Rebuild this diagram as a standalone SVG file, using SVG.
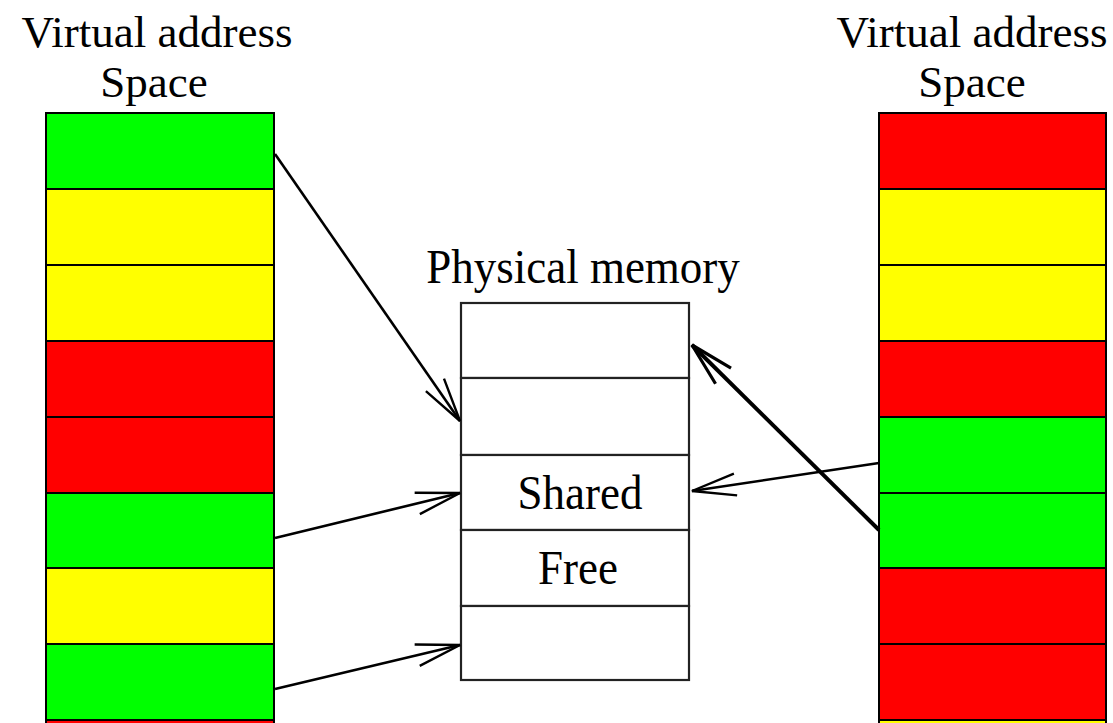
<svg xmlns="http://www.w3.org/2000/svg" width="1113" height="723" viewBox="0 0 1113 723">
  <style>
    .t { font-family: "Liberation Serif", "Times New Roman", serif; font-size: 45px; fill: #000; text-anchor: middle; }
    .g { fill: #00ff00; stroke: #000; stroke-width: 2; }
    .y { fill: #ffff00; stroke: #000; stroke-width: 2; }
    .r { fill: #ff0000; stroke: #000; stroke-width: 2; }
    .p { fill: #fff; stroke: #222; stroke-width: 2.2; }
    .c { fill: none; stroke: #000; stroke-width: 2.6; }
    .ct { fill: none; stroke: #000; stroke-width: 4; }
  </style>
  <defs>
    <marker id="arr" markerUnits="userSpaceOnUse" markerWidth="60" markerHeight="40" viewBox="-50 -20 60 40" refX="0" refY="0" orient="auto" overflow="visible">
      <path d="M-44,-11 L0,0 L-44,11" fill="none" stroke="#000" stroke-width="2.4"/>
    </marker>
    <marker id="arrt" markerUnits="userSpaceOnUse" markerWidth="60" markerHeight="40" viewBox="-50 -20 60 40" refX="0" refY="0" orient="auto" overflow="visible">
      <path d="M-44,-11 L0,0 L-44,11" fill="none" stroke="#000" stroke-width="3.2"/>
    </marker>
  </defs>
  <rect width="1113" height="723" fill="#fff"/>

  <g id="left-label">
    <text class="t" x="157" y="47">Virtual address</text>
    <text class="t" x="154" y="97">Space</text>
  </g>
  <g id="right-label">
    <text class="t" x="972" y="47">Virtual address</text>
    <text class="t" x="972" y="97">Space</text>
  </g>
  <g id="phys-label">
    <text class="t" transform="translate(583,283) scale(1,1.08)">Physical memory</text>
  </g>

  <g id="left-space">
    <rect class="g" x="46" y="113" width="228" height="76"/>
    <rect class="y" x="46" y="189" width="228" height="76"/>
    <rect class="y" x="46" y="265" width="228" height="76"/>
    <rect class="r" x="46" y="341" width="228" height="76"/>
    <rect class="r" x="46" y="417" width="228" height="76"/>
    <rect class="g" x="46" y="493" width="228" height="75"/>
    <rect class="y" x="46" y="568" width="228" height="76"/>
    <rect class="g" x="46" y="644" width="228" height="76"/>
    <rect class="r" x="46" y="720" width="228" height="20"/>
  </g>

  <g id="right-space">
    <rect class="r" x="879" y="113" width="227" height="76"/>
    <rect class="y" x="879" y="189" width="227" height="76"/>
    <rect class="y" x="879" y="265" width="227" height="76"/>
    <rect class="r" x="879" y="341" width="227" height="76"/>
    <rect class="g" x="879" y="417" width="227" height="76"/>
    <rect class="g" x="879" y="493" width="227" height="75"/>
    <rect class="r" x="879" y="568" width="227" height="76"/>
    <rect class="r" x="879" y="644" width="227" height="76"/>
    <rect class="y" x="879" y="720" width="227" height="20"/>
  </g>

  <g id="physical-memory">
    <rect class="p" x="461" y="303" width="228" height="75"/>
    <rect class="p" x="461" y="378" width="228" height="77"/>
    <rect class="p" x="461" y="455" width="228" height="75"/>
    <rect class="p" x="461" y="530" width="228" height="76"/>
    <rect class="p" x="461" y="606" width="228" height="74"/>
    <text class="t" transform="translate(580,509) scale(1,1.08)">Shared</text>
    <text class="t" transform="translate(578,584) scale(1,1.08)">Free</text>
  </g>

  <g id="connectors">
    <line class="c" x1="275" y1="154" x2="460" y2="421" marker-end="url(#arr)"/>
    <line class="c" x1="275" y1="538" x2="460" y2="493" marker-end="url(#arr)"/>
    <line class="c" x1="275" y1="689" x2="460" y2="645" marker-end="url(#arr)"/>
    <line class="c" x1="879" y1="463" x2="692" y2="491" marker-end="url(#arr)"/>
    <line class="ct" x1="879" y1="530" x2="692" y2="345" marker-end="url(#arrt)"/>
  </g>
</svg>
